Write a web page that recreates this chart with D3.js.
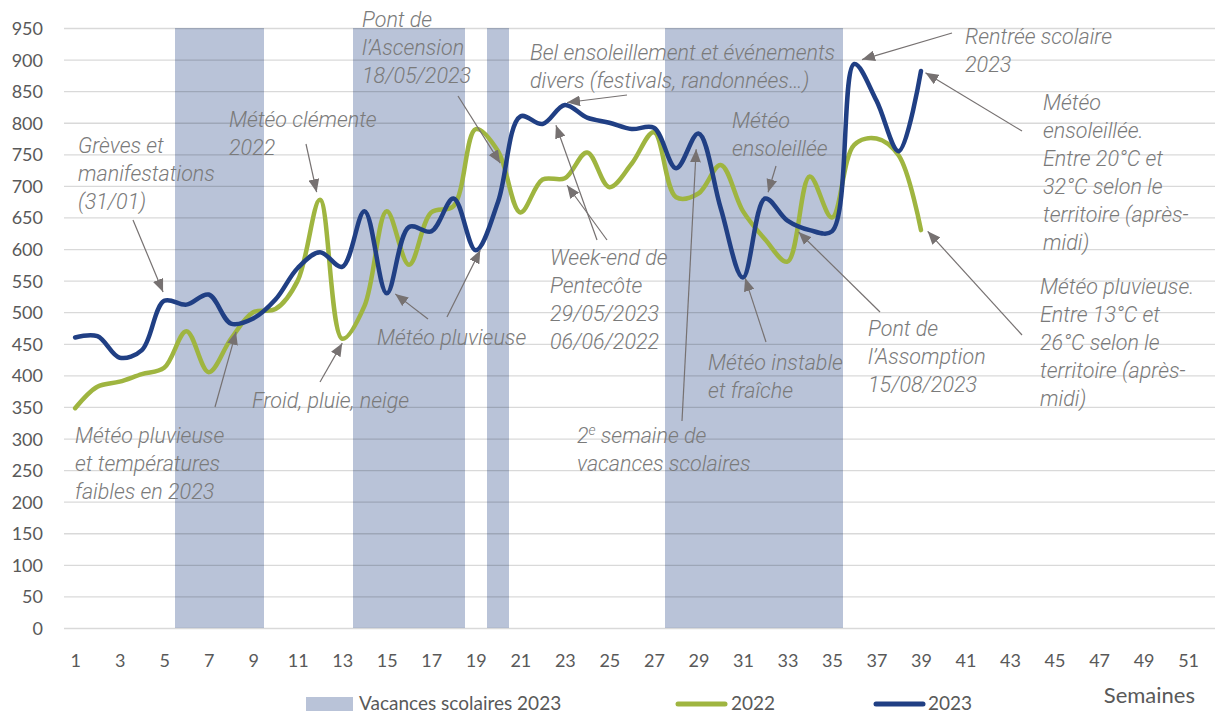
<!DOCTYPE html>
<html>
<head>
<meta charset="utf-8">
<script src="https://cdn.jsdelivr.net/npm/d3@7"></script>
<style>
  body { margin: 0; background: #fff; }
  svg { display: block; }
  .tick text { font-family: Lato, sans-serif; font-size: 18px; fill: #595959; }
  .note { font-family: Roboto, sans-serif; font-style: italic; font-weight: 300; font-size: 21.5px; fill: #7a7a7a; }
</style>
</head>
<body>
<div id="chart"></div>
<script>
const weeks = d3.range(1, 53);
const vacances = [6, 7, 8, 9, 14, 15, 16, 17, 18, 20, 28, 29, 30, 31, 32, 33, 34, 35];
const values2022 = [348, 382, 390, 402, 412, 470, 405, 458, 500, 505, 550, 678, 458, 510, 660, 575, 658, 668, 790, 755,
  658, 710, 712, 753, 698, 735, 785, 682, 688, 733, 660, 615, 580, 715, 650, 765, 775, 748, 630];
const values2023 = [460, 462, 428, 440, 518, 512, 528, 482, 490, 520, 570, 595, 572, 660, 530, 635, 628, 680, 598, 675,
  810, 798, 828, 808, 800, 790, 792, 728, 783, 665, 555, 680, 645, 630, 628, 893, 835, 755, 882];
const yTicks = d3.range(0, 951, 50);
const xTicks = d3.range(1, 53, 2);

// annotations: text lines, first baseline, arrow tails (px) and heads (week, value)
const notes = [
  { lines: ['Grèves et', 'manifestations', '(31/01)'], x: 78, y: 153, arrows: [[133, 220, 4.95, 532]] },
  { lines: ['Météo clémente', '2022'], x: 229, y: 127, arrows: [[306, 144, 11.85, 690]] },
  { lines: ['Pont de', 'l’Ascension', '18/05/2023'], x: 362, y: 27, arrows: [[458, 96, 20.1, 736]] },
  { lines: ['Bel ensoleillement et événements', 'divers (festivals, randonnées…)'], x: 530, y: 60, arrows: [[627, 95, 23.1, 832]] },
  { lines: ['Rentrée scolaire', '2023'], x: 965, y: 44, arrows: [[952, 33, 36.35, 900]] },
  { lines: ['Météo', 'ensoleillée.', 'Entre 20°C et', '32°C selon le', 'territoire (après-', 'midi)'], x: 1043, y: 110, arrows: [[1022, 131, 39.2, 879]] },
  { lines: ['Météo pluvieuse.', 'Entre 13°C et', '26°C selon le', 'territoire (après-', 'midi)'], x: 1040, y: 294, arrows: [[1022, 335, 39.3, 628]] },
  { lines: ['Météo', 'ensoleillée'], x: 732, y: 128, arrows: [[776, 166, 32.13, 690]] },
  { lines: ['Week-end de', 'Pentecôte', '29/05/2023', '06/06/2022'], x: 550, y: 265, arrows: [[597, 240, 22.6, 796], [607, 240, 23.1, 701]] },
  { lines: ['Météo pluvieuse'], x: 377, y: 345, arrows: [[428, 319, 15.38, 529], [447, 317, 19.2, 598]] },
  { lines: ['Froid, pluie, neige'], x: 252, y: 408, arrows: [[320, 382, 13.0, 451]] },
  { lines: ['Météo pluvieuse', 'et températures', 'faibles en 2023'], x: 75, y: 443, arrows: [[215, 407, 8.23, 469]] },
  { lines: ['Météo instable', 'et fraîche'], x: 708, y: 370, arrows: [[766, 342, 31.1, 554]] },
  { lines: ['Pont de', 'l’Assomption', '15/08/2023'], x: 868, y: 336, arrows: [[880, 312, 33.5, 627]] },
  { lines: ['2e semaine de', 'vacances scolaires'], x: 577, y: 443, arrows: [[682, 421, 28.9, 758]] }
];

const width = 1215;
const height = 715;

const svg = d3.select('#chart')
  .append('svg')
  .attr('width', width)
  .attr('height', height);

const x = d3.scaleLinear().domain([0.5, 52.5]).range([64, 1221.5]);
const y = d3.scaleLinear().domain([0, 950]).range([628, 28]);

svg.append('defs').append('marker')
  .attr('id', 'head')
  .attr('markerUnits', 'userSpaceOnUse')
  .attr('viewBox', '0 0 12 10')
  .attr('refX', 12).attr('refY', 5)
  .attr('markerWidth', 13).attr('markerHeight', 11)
  .attr('orient', 'auto')
  .append('path')
  .attr('d', 'M0,0 L12,5 L0,10 Z')
  .attr('fill', '#767171');

// school holidays
svg.append('g')
  .selectAll('rect')
  .data(vacances)
  .enter()
  .append('rect')
  .attr('x', d => x(d - 0.5))
  .attr('y', y(950))
  .attr('width', x(1.5) - x(0.5))
  .attr('height', y(0) - y(950))
  .attr('fill', '#b9c3d8')
  .attr('shape-rendering', 'crispEdges');

// grid + y labels
const yAxis = d3.axisLeft(y).tickValues(yTicks).tickSize(-(1215 - 64)).tickPadding(20);
svg.append('g')
  .attr('transform', 'translate(64,0)')
  .call(yAxis)
  .call(g => g.select('.domain').remove())
  .call(g => g.selectAll('.tick line').attr('stroke', '#000').attr('stroke-opacity', 0.15).attr('stroke-width', 1.3))
  .call(g => g.selectAll('.tick text').attr('x', -21).attr('dy', '0.36em'));

const xAxis = d3.axisBottom(x).tickValues(xTicks).tickSize(0).tickPadding(26);
svg.append('g')
  .attr('transform', 'translate(0,628)')
  .call(xAxis)
  .call(g => g.select('.domain').remove());

// series
const line = d3.line()
  .x((d, i) => x(weeks[i]))
  .y(d => y(d))
  .curve(d3.curveCatmullRom.alpha(0.5));

svg.append('path')
  .datum(values2022)
  .attr('d', line)
  .attr('fill', 'none')
  .attr('stroke', '#9fb540')
  .attr('stroke-width', 4.5)
  .attr('stroke-linecap', 'round');

svg.append('path')
  .datum(values2023)
  .attr('d', line)
  .attr('fill', 'none')
  .attr('stroke', '#203f84')
  .attr('stroke-width', 4.5)
  .attr('stroke-linecap', 'round');

// annotations
notes.forEach(n => {
  n.arrows.forEach(a => {
    svg.append('line')
      .attr('x1', a[0]).attr('y1', a[1])
      .attr('x2', x(a[2])).attr('y2', y(a[3]))
      .attr('stroke', '#767171')
      .attr('stroke-width', 1.2)
      .attr('marker-end', 'url(#head)');
  });
  const t = svg.append('text').attr('class', 'note');
  n.lines.forEach((l, i) => {
    const ts = t.append('tspan').attr('x', n.x).attr('y', n.y + i * 28);
    if (l.startsWith('2e ')) {
      ts.text('2');
      ts.append('tspan').attr('dy', -8).attr('font-size', 14).text('e');
      ts.append('tspan').attr('dy', 8).text(l.slice(2));
    } else {
      ts.text(l);
    }
  });
});

// legend
const legend = svg.append('g').attr('font-family', 'Lato, sans-serif').attr('font-size', 19).attr('fill', '#595959');
legend.append('rect').attr('x', 306).attr('y', 697).attr('width', 47).attr('height', 14).attr('fill', '#b9c3d8');
legend.append('text').attr('x', 359).attr('y', 710).text('Vacances scolaires 2023');
legend.append('line').attr('x1', 678).attr('x2', 725).attr('y1', 704).attr('y2', 704)
  .attr('stroke', '#9fb540').attr('stroke-width', 5).attr('stroke-linecap', 'round');
legend.append('text').attr('x', 731).attr('y', 710).text('2022');
legend.append('line').attr('x1', 876).attr('x2', 923).attr('y1', 704).attr('y2', 704)
  .attr('stroke', '#203f84').attr('stroke-width', 5).attr('stroke-linecap', 'round');
legend.append('text').attr('x', 928).attr('y', 710).text('2023');

svg.append('text')
  .attr('x', 1195).attr('y', 703)
  .attr('text-anchor', 'end')
  .attr('font-family', 'Lato, sans-serif')
  .attr('font-size', 22)
  .attr('fill', '#595959')
  .text('Semaines');
</script>
</body>
</html>
